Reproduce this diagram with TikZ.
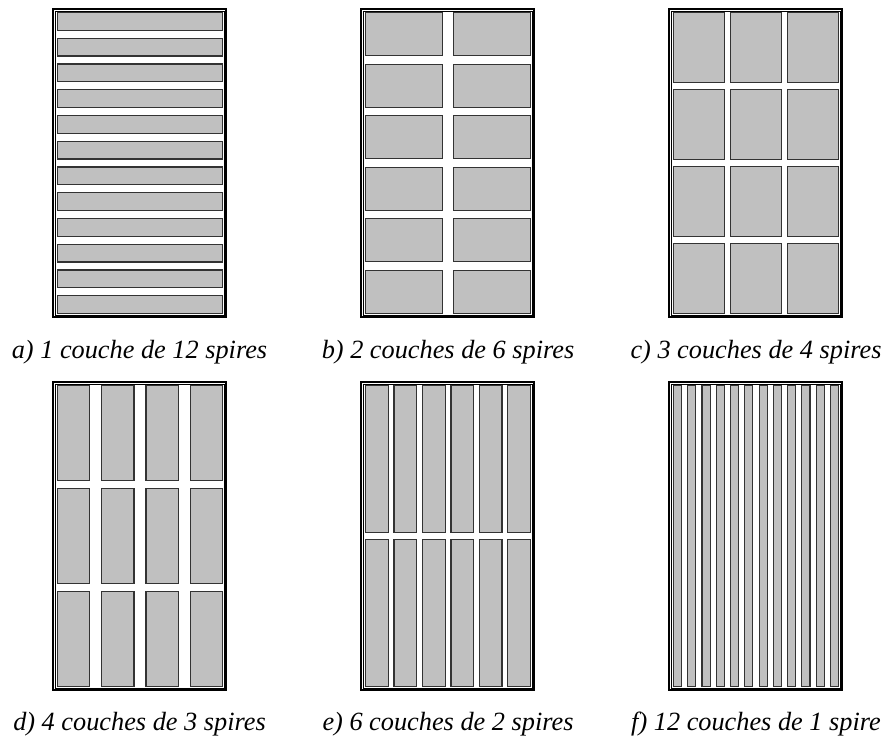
\documentclass[tikz,border=0pt]{standalone}
\usepackage{fontspec}
\setmainfont{Liberation Serif}
\usepackage{tikz}
\usetikzlibrary{positioning}
\usepackage{xcolor}
\definecolor{cuivre}{HTML}{C0C0C0}
% one window: x0, y0, columns, rows, column gap, row gap
\newcommand{\fenetre}[6]{%
  \pgfmathsetmacro{\lspire}{(165-(#3-1)*#5)/#3}
  \pgfmathsetmacro{\hspire}{(301-(#4-1)*#6)/#4}
  \draw[cadre] (#1,#2) rectangle ++(173,308);
  \draw[cadrein] ({#1+2},{#2+2}) rectangle ++(169,304);
  \foreach \i in {1,...,#3}{
    \foreach \j in {1,...,#4}{
      \draw[spire] ({#1+4.5+(\i-1)*(\lspire+#5)},{#2+3.5+(\j-1)*(\hspire+#6)}) rectangle ++(\lspire,\hspire);
    }
  }
}

\begin{document}
\begin{tikzpicture}[x=0.5pt,y=-0.5pt,
    cadre/.style={draw=black,line width=0.9pt},
    cadrein/.style={draw=black,line width=0.25pt},
    spire/.style={draw=black!80,fill=cuivre,line width=0.55pt},
    legende/.style={anchor=base,font=\itshape\fontsize{13.15}{15}\selectfont}]
  \useasboundingbox (0,0) rectangle (889,738);
  % top row
  \fenetre{53}{9}{1}{12}{0}{8}
  \fenetre{361}{9}{2}{6}{11.6}{8.5}
  \fenetre{669}{9}{3}{4}{6.2}{7}
  \node[legende] (la) at (139.5,358) {a) 1 couche de 12 spires};
  \node[legende] (lb) at (448,358) {b) 2 couches de 6 spires};
  \node[legende] (lc) at (756,358) {c) 3 couches de 4 spires};
  % bottom row
  \fenetre{53}{382}{4}{3}{12}{8}
  \fenetre{361}{382}{6}{2}{5.9}{7.7}
  \fenetre{669}{382}{12}{1}{6.2}{0}
  \node[legende] (ld) at (139.5,730) {d) 4 couches de 3 spires};
  \node[legende] (le) at (448,730) {e) 6 couches de 2 spires};
  \node[legende] (lf) at (756,730) {f) 12 couches de 1 spire};
\end{tikzpicture}
\end{document}
